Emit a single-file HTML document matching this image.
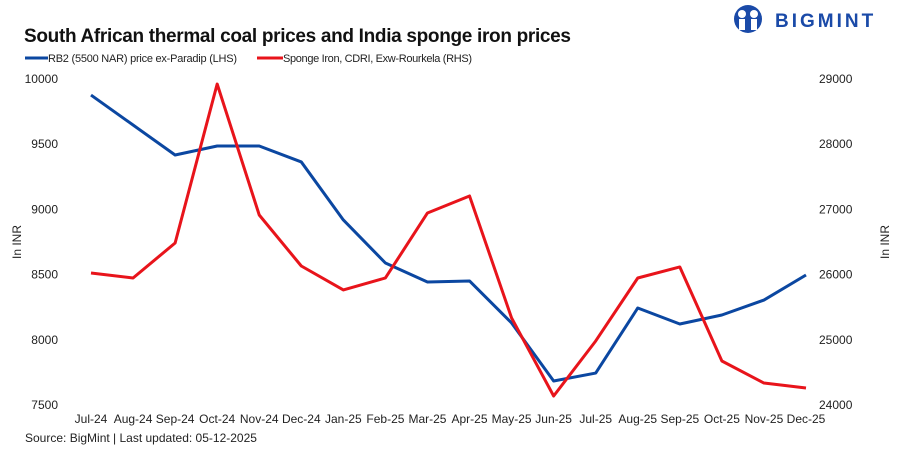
<!DOCTYPE html>
<html><head><meta charset="utf-8"><style>
body{margin:0;background:#fff;}
svg{display:block;font-family:"Liberation Sans",sans-serif;}
</style></head><body>
<svg id="c" width="900" height="453">
<text x="24" y="42" font-size="19" font-weight="bold" fill="#111" textLength="547">South African thermal coal prices and India sponge iron prices</text>
<g>
<line x1="25" y1="58" x2="48" y2="58" stroke="#0b47a1" stroke-width="3"/>
<text x="48" y="62" font-size="11" fill="#222" textLength="189">RB2 (5500 NAR) price ex-Paradip (LHS)</text>
<line x1="257" y1="58" x2="283" y2="58" stroke="#e8141b" stroke-width="3"/>
<text x="283" y="62" font-size="11" fill="#222" textLength="189">Sponge Iron, CDRI, Exw-Rourkela (RHS)</text>
</g>
<g>
<circle cx="748" cy="19" r="14" fill="#1a4aa8"/>
<circle cx="742" cy="14" r="4" fill="#fff"/><circle cx="754" cy="14" r="4" fill="#fff"/>
<rect x="739" y="19" width="6" height="11" fill="#fff"/><rect x="751" y="19" width="6" height="11" fill="#fff"/>
<text x="775" y="27" font-size="19" font-weight="bold" fill="#1a4aa8" letter-spacing="3">BIGMINT</text>
</g>
<text transform="translate(21,242) rotate(-90)" text-anchor="middle" font-size="12" fill="#222">In INR</text>
<text transform="translate(889,242) rotate(-90)" text-anchor="middle" font-size="12" fill="#222">In INR</text>
<text x="25" y="442" font-size="12" fill="#222">Source: BigMint | Last updated: 05-12-2025</text>
</svg>
<script>
const categories=["Jul-24","Aug-24","Sep-24","Oct-24","Nov-24","Dec-24","Jan-25","Feb-25","Mar-25","Apr-25","May-25","Jun-25","Jul-25","Aug-25","Sep-25","Oct-25","Nov-25","Dec-25"];
const rb2Values=[9877,9647,9417,9486,9486,9364,8919,8589,8443,8451,8129,7684,7745,8244,8121,8190,8305,8497];
const spongeValues=[26025,25948,26485,28923,26914,26132,25764,25948,26945,27206,25335,24138,24982,25948,26117,24675,24337,24261];
const leftTicks=[7500,8000,8500,9000,9500,10000];
const rightTicks=[24000,25000,26000,27000,28000,29000];
const svg=document.getElementById('c');const NS="http://www.w3.org/2000/svg";
const yTop=79,yBot=405,x0=91,x1=806;
const xs=i=>x0+i*(x1-x0)/(categories.length-1);
const yl=v=>yBot-(v-7500)/(10000-7500)*(yBot-yTop);
const yr=v=>yBot-(v-24000)/(29000-24000)*(yBot-yTop);
function mk(t,a){const e=document.createElementNS(NS,t);for(const k in a)e.setAttribute(k,a[k]);svg.appendChild(e);return e;}
leftTicks.forEach(v=>{const e=mk('text',{x:58,y:yl(v)+4,'text-anchor':'end','font-size':12,fill:'#222'});e.textContent=v;

});
rightTicks.forEach(v=>{const e=mk('text',{x:819,y:yr(v)+4,'font-size':12,fill:'#222'});e.textContent=v;

});
categories.forEach((c,i)=>{const e=mk('text',{x:xs(i),y:423,'text-anchor':'middle','font-size':12,fill:'#222'});e.textContent=c;

});
const l1=mk('polyline',{points:rb2Values.map((v,i)=>xs(i)+','+yl(v)).join(' '),fill:'none',stroke:'#0b47a1','stroke-width':3,'stroke-linejoin':'round'});


const l2=mk('polyline',{points:spongeValues.map((v,i)=>xs(i)+','+yr(v)).join(' '),fill:'none',stroke:'#e8141b','stroke-width':3,'stroke-linejoin':'round'});


</script>
</body></html>
